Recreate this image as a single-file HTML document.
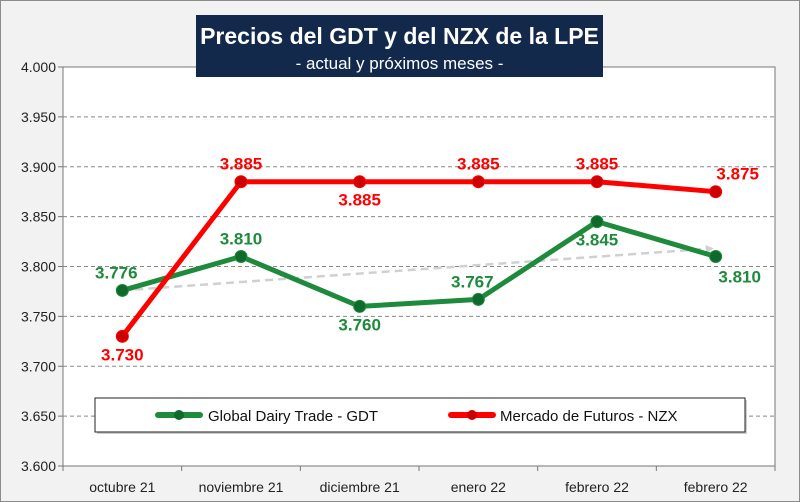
<!DOCTYPE html>
<html><head><meta charset="utf-8"><style>
body{margin:0;background:#f2f2f2;}
svg{display:block;font-family:"Liberation Sans",sans-serif;}
</style></head><body>
<svg id="c" width="800" height="502" viewBox="0 0 800 502" xmlns="http://www.w3.org/2000/svg">
<rect x="0.5" y="0.5" width="799" height="501" fill="#f2f2f2" stroke="#8c8c8c"/>
<rect x="63" y="67" width="712" height="399" fill="#fff" stroke="#777"/>
<g id="grid"></g>
<g id="marks"></g>
<rect x="196" y="15" width="407" height="62" fill="#13294b"/>
<text x="399.5" y="44" text-anchor="middle" fill="#fff" font-size="23" font-weight="bold">Precios del GDT y del NZX de la LPE</text>
<text x="399.5" y="69" text-anchor="middle" fill="#fff" font-size="17">- actual y próximos meses -</text>
<g>
<rect x="97" y="400" width="650" height="34" fill="#999" opacity="0.5"/>
<rect x="95" y="398" width="650" height="34" fill="#fff" stroke="#222"/>
<g>
<line x1="158" y1="415" x2="200" y2="415" stroke="#1e8a3c" stroke-width="6" stroke-linecap="round"/>
<circle cx="179" cy="415" r="5" fill="#0f6b2c"/>
<text x="208" y="421" font-size="15" fill="#111">Global Dairy Trade - GDT</text>
</g>
<g>
<line x1="451" y1="415" x2="493" y2="415" stroke="#f00" stroke-width="6" stroke-linecap="round"/>
<circle cx="472" cy="415" r="5" fill="#c00"/>
<text x="500" y="421" font-size="15" fill="#111">Mercado de Futuros - NZX</text>
</g>
</g>
</svg>
<script>
const categories=["octubre 21","noviembre 21","diciembre 21","enero 22","febrero 22","febrero 22"];
const gdtValues=[3.776,3.810,3.760,3.767,3.845,3.810];
const nzxValues=[3.730,3.885,3.885,3.885,3.885,3.875];
const yTicks=[3.600,3.650,3.700,3.750,3.800,3.850,3.900,3.950,4.000];
const gdtLabelPos=["al","a","b","al","b","br"];
const nzxLabelPos=["b","a","b","a","a","ar"];
const NS="http://www.w3.org/2000/svg";
const L=63,R=775,T=67,B=466,ymin=3.6,ymax=4.0;
const x=i=>L+(i+0.5)*(R-L)/categories.length;
const y=v=>B-(v-ymin)/(ymax-ymin)*(B-T);
function mk(t,a,p){const e=document.createElementNS(NS,t);for(const k in a)e.setAttribute(k,a[k]);p.appendChild(e);return e;}
const grid=document.getElementById('grid'),marks=document.getElementById('marks');
yTicks.forEach(v=>{
 if(v>ymin&&v<ymax){const g=mk('line',{x1:L,x2:R,y1:y(v),y2:y(v),stroke:'#888','stroke-dasharray':'4,3'},grid);
 
 }
 mk('line',{x1:L-5,x2:L,y1:y(v),y2:y(v),stroke:'#777'},grid);
 const t=mk('text',{x:L-7,y:y(v)+5,'text-anchor':'end','font-size':14,fill:'#222'},grid);t.textContent=v.toFixed(3);
 
 
});
categories.forEach((c,i)=>{
 const bx=L+i*(R-L)/categories.length;
 mk('line',{x1:bx,x2:bx,y1:B,y2:B+5,stroke:'#777'},grid);
 const t=mk('text',{x:x(i),y:B+26,'text-anchor':'middle','font-size':14,fill:'#222'},grid);t.textContent=c;
 
 
});
mk('line',{x1:R,x2:R,y1:B,y2:B+5,stroke:'#777'},grid);
// trend arrow
const defs=mk('defs',{},marks);
const m=mk('marker',{id:'ah',markerWidth:8,markerHeight:8,refX:6,refY:4,orient:'auto',markerUnits:'userSpaceOnUse'},defs);
mk('path',{d:'M0,0 L8,4 L0,8 Z',fill:'#d0d0d0'},m);
const n=gdtValues.length-1;
const tr=mk('line',{x1:x(0),y1:y(gdtValues[0]),x2:x(n)-4,y2:y(gdtValues[n])-8,stroke:'#d0d0d0','stroke-width':2.5,'stroke-dasharray':'8,5','marker-end':'url(#ah)'},marks);


function series(vals,col,dark,name,pos){
 const pl=mk('polyline',{points:vals.map((v,i)=>x(i)+','+y(v)).join(' '),fill:'none',stroke:col,'stroke-width':5,'stroke-linejoin':'round'},marks);
 
 
 vals.forEach((v,i)=>{
  const c=mk('circle',{cx:x(i),cy:y(v),r:6,fill:dark,stroke:col,'stroke-width':1},marks);
  
  
  let dx=0,dy=-12,an='middle';const p=pos[i];
  if(p==='b')dy=24; if(p==='al'){dx=-6;dy=-12;} if(p==='br'){dx=24;dy=26;} if(p==='ar'){dx=22;dy=-12;}
  const t=mk('text',{x:x(i)+dx,y:y(v)+dy,'text-anchor':an,'font-size':17,'font-weight':'bold',fill:col==='#f00'?'#f00':'#1e8a3c'},marks);
  t.textContent=v.toFixed(3);
  
  
 });
}
series(gdtValues,'#1e8a3c','#0f6b2c','gdt',gdtLabelPos);
series(nzxValues,'#f00','#c00','nzx',nzxLabelPos);
</script>
</body></html>
